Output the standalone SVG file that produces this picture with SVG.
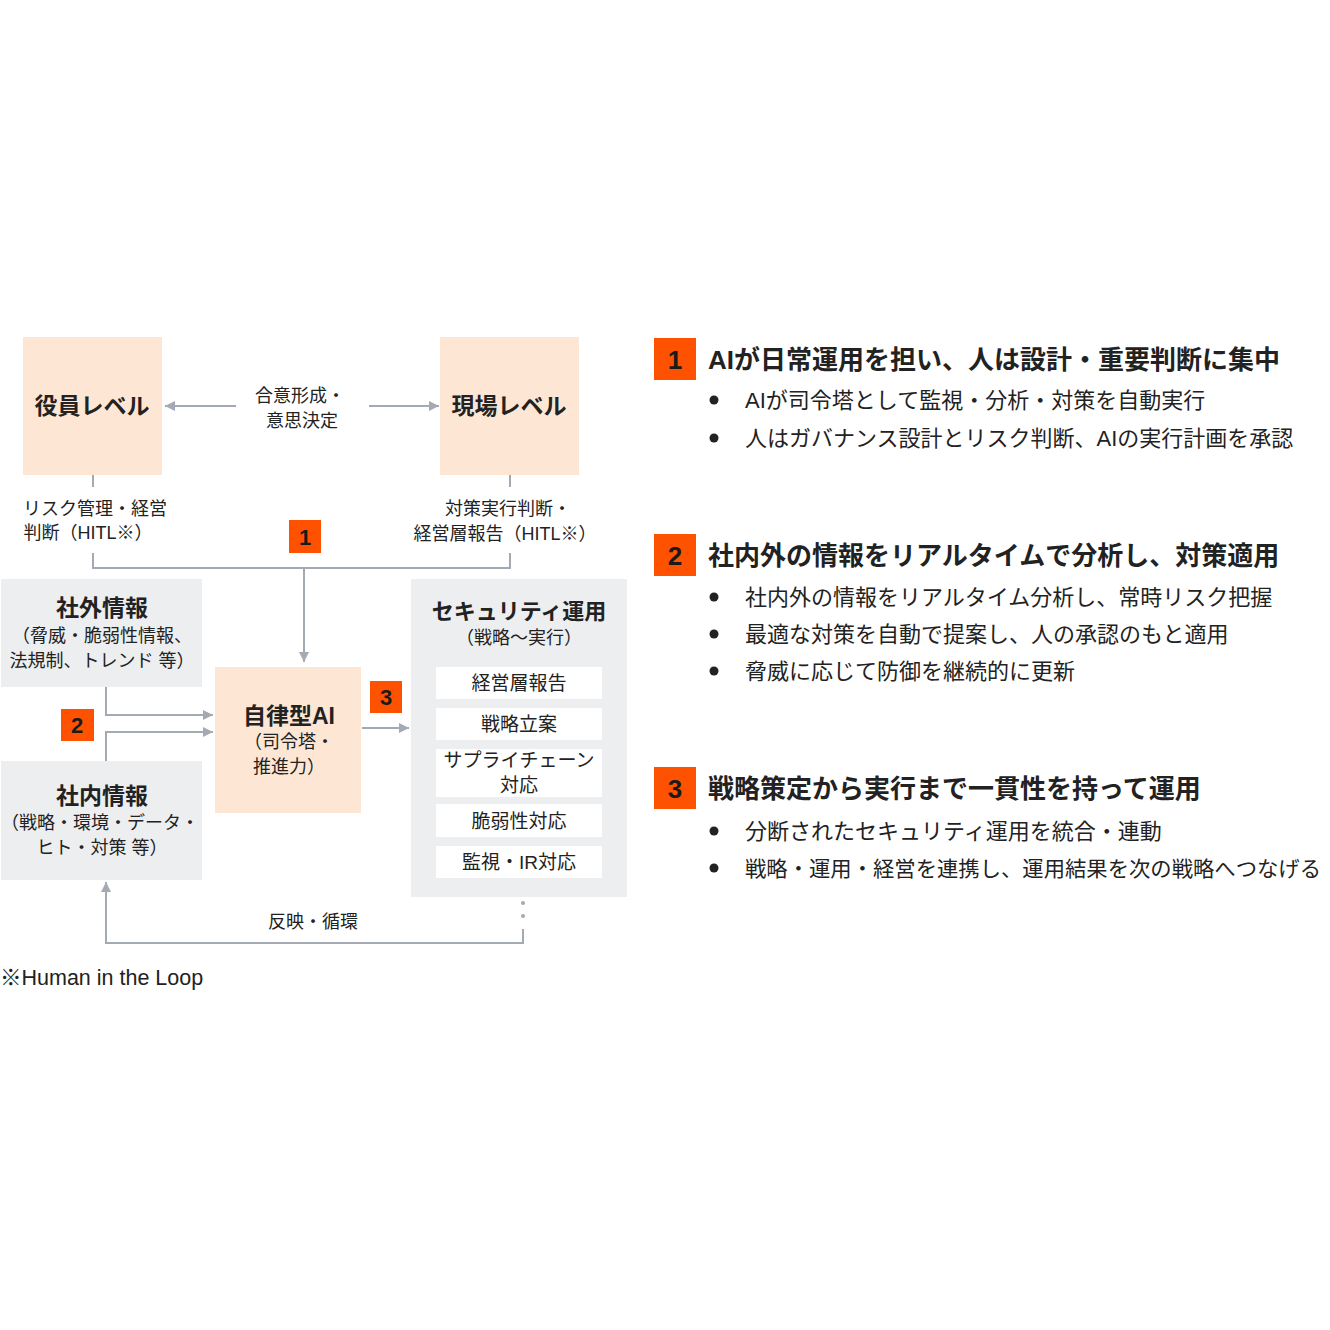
<svg xmlns="http://www.w3.org/2000/svg" width="1330" height="1330" viewBox="0 0 1330 1330">
<defs>
<marker id="ah" viewBox="0 0 10 10" refX="10" refY="5" markerWidth="10" markerHeight="10" markerUnits="userSpaceOnUse" orient="auto">
<path d="M0,0 L10,5 L0,10 z" fill="#A3AAB4"/>
</marker>
<style>
text{font-family:"Liberation Sans","Noto Sans CJK JP",sans-serif;fill:#222;}
.peach{fill:#FDE6D3;}
.gray{fill:#EDEEF0;}
.white{fill:#FFFFFF;}
.badge{fill:#FF5200;}
.bn{fill:#1a1a1a;font-weight:bold;font-size:22px;text-anchor:middle;}
.bnr{fill:#1a1a1a;font-weight:bold;font-size:26px;text-anchor:middle;}
.tb{font-weight:bold;font-size:23px;text-anchor:middle;}
.t{font-size:18px;text-anchor:middle;}
.ti{font-size:19px;text-anchor:middle;}
.h{font-weight:bold;font-size:26px;}
.b{font-size:22px;}
.ln{fill:none;stroke:#A3AAB4;stroke-width:2;}
.dot{fill:#A3AAB4;}
</style>
</defs>
<rect width="1330" height="1330" fill="#fff"/>

<g id="connectors">
<line class="ln" x1="236" y1="406" x2="165" y2="406" marker-end="url(#ah)"/>
<line class="ln" x1="369" y1="406" x2="439" y2="406" marker-end="url(#ah)"/>
<line class="ln" x1="93" y1="475" x2="93" y2="487"/>
<line class="ln" x1="510" y1="475" x2="510" y2="487"/>
<polyline class="ln" points="93,553 93,568 510,568 510,553"/>
<line class="ln" x1="304" y1="568" x2="304" y2="662" marker-end="url(#ah)"/>
<polyline class="ln" points="106,687 106,715 213,715" marker-end="url(#ah)"/>
<polyline class="ln" points="106,761 106,732 213,732" marker-end="url(#ah)"/>
<line class="ln" x1="362" y1="728" x2="409" y2="728" marker-end="url(#ah)"/>
<circle class="dot" cx="523" cy="890" r="2"/>
<circle class="dot" cx="523" cy="903" r="2"/>
<circle class="dot" cx="523" cy="916" r="2"/>
<polyline class="ln" points="523,929 523,943 106,943 106,882" marker-end="url(#ah)"/>
<text class="t" x="313" y="928">反映・循環</text>
<text class="t" x="300" y="402">合意形成・</text>
<text class="t" x="302" y="427">意思決定</text>
<text class="t" x="95" y="515">リスク管理・経営</text>
<text class="t" x="88" y="539">判断（HITL※）</text>
<text class="t" x="508" y="515">対策実行判断・</text>
<text class="t" x="505" y="540">経営層報告（HITL※）</text>
</g>

<g id="node-yakuin">
<rect class="peach" x="23" y="337" width="139" height="138"/>
<text class="tb" x="92" y="414">役員レベル</text>
</g>
<g id="node-genba">
<rect class="peach" x="440" y="337" width="139" height="138"/>
<text class="tb" x="509" y="414">現場レベル</text>
</g>

<g id="badge-1">
<rect class="badge" x="289" y="520" width="32" height="33"/>
<text class="bn" x="305" y="545">1</text>
</g>
<g id="badge-2">
<rect class="badge" x="61" y="709" width="33" height="32"/>
<text class="bn" x="77" y="733">2</text>
</g>
<g id="badge-3">
<rect class="badge" x="370" y="681" width="32" height="32"/>
<text class="bn" x="386" y="705">3</text>
</g>

<g id="node-shagai">
<rect class="gray" x="1" y="579" width="201" height="108"/>
<text class="tb" x="102" y="616">社外情報</text>
<text class="t" x="102" y="642">（脅威・脆弱性情報、</text>
<text class="t" x="102" y="667">法規制、トレンド 等）</text>
</g>
<g id="node-shanai">
<rect class="gray" x="1" y="761" width="201" height="119"/>
<text class="tb" x="102" y="804">社内情報</text>
<text class="t" x="100" y="829">（戦略・環境・データ・</text>
<text class="t" x="102" y="854">ヒト・対策 等）</text>
</g>
<g id="node-ai">
<rect class="peach" x="215" y="667" width="146" height="146"/>
<text class="tb" x="289" y="724">自律型AI</text>
<text class="t" x="289" y="748">（司令塔・</text>
<text class="t" x="289" y="773">推進力）</text>
</g>

<g id="node-secops">
<rect class="gray" x="411" y="579" width="216" height="318"/>
<text class="tb" x="519" y="619" style="font-size:22px">セキュリティ運用</text>
<text class="t" x="519" y="644">（戦略〜実行）</text>
<rect class="white" x="436" y="667" width="166" height="32"/>
<text class="ti" x="519" y="690">経営層報告</text>
<rect class="white" x="436" y="708" width="166" height="32"/>
<text class="ti" x="519" y="731">戦略立案</text>
<rect class="white" x="436" y="749" width="166" height="48"/>
<text class="ti" x="519" y="767">サプライチェーン</text>
<text class="ti" x="519" y="792">対応</text>
<rect class="white" x="436" y="804" width="166" height="33"/>
<text class="ti" x="519" y="828">脆弱性対応</text>
<rect class="white" x="436" y="846" width="166" height="32"/>
<text class="ti" x="519" y="869">監視・IR対応</text>
</g>

<text x="0" y="985" style="font-size:21.5px">※Human in the Loop</text>

<g id="point-1">
<rect class="badge" x="654" y="338" width="42" height="42"/>
<text class="bnr" x="675" y="369">1</text>
<text class="h" x="708" y="369">AIが日常運用を担い、人は設計・重要判断に集中</text>
<circle cx="714" cy="400" r="4.5" fill="#222"/>
<text class="b" x="745" y="408">AIが司令塔として監視・分析・対策を自動実行</text>
<circle cx="714" cy="438" r="4.5" fill="#222"/>
<text class="b" x="745" y="446">人はガバナンス設計とリスク判断、AIの実行計画を承認</text>
</g>
<g id="point-2">
<rect class="badge" x="654" y="534" width="42" height="42"/>
<text class="bnr" x="675" y="565">2</text>
<text class="h" x="708" y="565">社内外の情報をリアルタイムで分析し、対策適用</text>
<circle cx="714" cy="597" r="4.5" fill="#222"/>
<text class="b" x="745" y="605">社内外の情報をリアルタイム分析し、常時リスク把握</text>
<circle cx="714" cy="634" r="4.5" fill="#222"/>
<text class="b" x="745" y="642">最適な対策を自動で提案し、人の承認のもと適用</text>
<circle cx="714" cy="671" r="4.5" fill="#222"/>
<text class="b" x="745" y="679">脅威に応じて防御を継続的に更新</text>
</g>
<g id="point-3">
<rect class="badge" x="654" y="767" width="42" height="42"/>
<text class="bnr" x="675" y="798">3</text>
<text class="h" x="708" y="798">戦略策定から実行まで一貫性を持って運用</text>
<circle cx="714" cy="831" r="4.5" fill="#222"/>
<text class="b" x="745" y="839">分断されたセキュリティ運用を統合・連動</text>
<circle cx="714" cy="868" r="4.5" fill="#222"/>
<text class="b" x="745" y="876" style="font-size:21px" textLength="576" lengthAdjust="spacingAndGlyphs">戦略・運用・経営を連携し、運用結果を次の戦略へつなげる</text>
</g>
</svg>
